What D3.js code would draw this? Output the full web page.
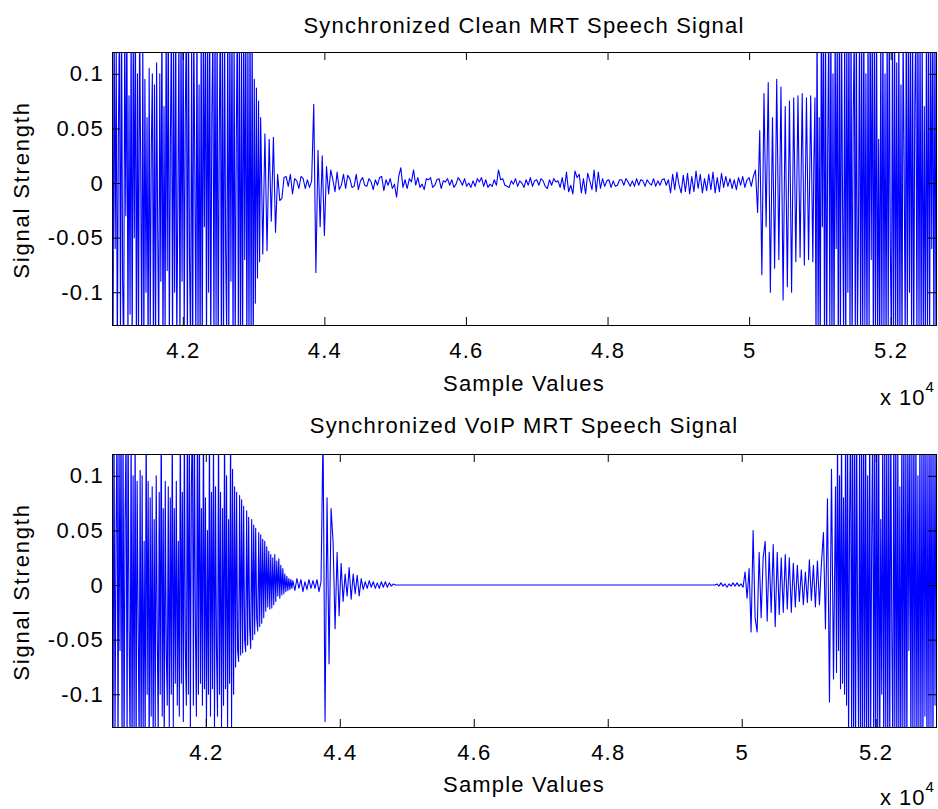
<!DOCTYPE html>
<html><head><meta charset="utf-8">
<script src="https://cdn.jsdelivr.net/npm/d3@7"></script>
<style>
body{margin:0;background:#fff;}
svg text{font-family:"Liberation Sans",Arial,sans-serif;fill:#000;}
</style></head><body>
<svg id="chart" width="938" height="809"></svg>
<script>
// ---- data ----
const xTicks=[42000,44000,46000,48000,50000,52000];
const xTickLabels=["4.2","4.4","4.6","4.8","5","5.2"];
const yTicks=[-0.1,-0.05,0,0.05,0.1];
const yTickLabels=["-0.1","-0.05","0","0.05","0.1"];
const titles=["Synchronized Clean MRT Speech Signal","Synchronized VoIP MRT Speech Signal"];
const xLabel="Sample Values";
const yLabel="Signal Strength";
const loudStep=15;   // samples between stored values in loud parts
const quietStep=30;  // samples between stored values elsewhere
// All signal values are in thousandths.
// Clean signal
const cleanOnsetStart=41000;
const cleanOnset=[
 70,-150,160,-60,120,-160,40,150,-140,160,
 -90,-160,150,-30,160,-150,80,-120,150,-160,
 140,-50,160,-160,100,-140,150,20,-160,130,
 -150,95,-100,60,-160,105,-140,30,100,-150,
 90,-160,110,-40,-150,100,-90,160,-160,70,
 -140,150,-80,160,-150,40,150,-160,120,-100,
 160,-150,-20,140,-160,150,-90,160,-140,60,
 150,-160,160,-70,-150,130,-160,150,10,-150,
 160,-140,90,-160,150,-160,140,-40,160,-150,
 150,-100,160,-160,60,140,-150,160,-130,150,
 -160,40,160,-150,140,-160,150,-60,-140,160,
 -150,150,-90,160,-160,140,-150,30,160,-140,
 150,-160,120,-150,160,-70,150,-160,140,-150,
 160,-150,150,-160,95,-110,87,-87,75,-72
];
const cleanMiddleStart=43100;
const cleanMiddle=[
 60,-65,45,-62,40,-35,42,-45,8,-16,
 -14,5,6,-3,8,-10,4,2,-5,6,
 4,-5,3,-4,2,72,-82,30,-40,25,
 -48,15,-10,12,3,-8,10,-6,-2,8,
 -5,7,4,-4,-3,8,-6,2,5,-2,
 -3,4,1,-6,3,-2,5,6,-7,3,
 -2,4,-5,-1,-13,6,14,-4,3,-5,
 4,1,12,-2,5,-4,-1,-6,4,3,
 5,-4,-2,3,4,-5,2,1,4,-2,
 3,-4,-1,5,2,-2,4,-3,0,-4,
 2,-3,4,1,5,-3,3,-4,-1,-3,
 3,-2,12,3,4,-2,-3,-4,2,-1,
 4,-3,2,0,-4,3,-2,5,-3,2,
 3,-2,4,2,-3,-5,3,-2,4,1,
 2,-4,5,-6,10,-8,-2,-10,11,5,
 8,-9,4,-10,9,2,-6,12,-8,10,
 -5,4,-3,2,3,-4,2,-3,-2,3,
 3,-2,4,1,-3,2,-3,4,-2,3,
 2,-3,3,0,-2,4,-3,2,-2,3,
 4,-2,3,-9,8,-6,10,-2,-9,7,
 -8,9,-10,6,-8,11,-5,8,-9,4,
 -7,8,-6,10,-9,5,-8,9,-4,6,
 -3,4,-5,3,-6,5,-2,6,-4,3,
 5,-3,6,12,-27,48,-84,82,-40,92,
 -100,60,-78,95,-70,88,-107,70,-95,75,
 -100,78,-72,80,-68,82,-75,78,-70,80
];
const cleanOffsetStart=50900;
const cleanOffset=[
 -72,20,78,-150,160,-140,60,-160,150,-40,
 160,-150,140,-160,30,150,-140,160,-150,100,
 -160,150,-60,140,-160,150,-150,160,-20,-140,
 150,-160,140,-100,160,-150,150,-160,60,140,
 -150,160,-140,-40,150,-160,140,-150,160,-130,
 100,-160,150,-140,160,-70,150,-160,140,-150,
 160,-150,40,-160,140,-150,160,-140,100,-160,
 150,-140,160,-60,-150,140,-160,150,-140,110,
 -160,150,-150,90,-160,140,20,-150,160,-140,
 150,-100,160,-150,140,-160,70,150,-150,160,
 -140,150,-160,140,-150,70,-160,150,-140,160,
 -150,140,-60,160,-160,150,-140
];
// VoIP signal
const voipOnsetStart=40600;
const voipOnset=[
 80,-150,160,-140,40,150,-160,140,-60,160,
 -150,150,-160,60,140,-150,160,-40,-150,150,
 -160,100,-140,150,-160,95,-30,-150,105,-160,
 100,-140,40,-150,160,-100,95,-160,80,-120,
 90,-150,60,-130,100,-40,-140,85,-100,160,
 -120,70,-150,95,-60,-110,90,-130,80,-100,
 150,-130,70,-90,95,-110,40,-120,160,-90,
 85,-125,150,-60,-110,160,-100,140,-130,90,
 160,-110,150,-40,-120,160,-100,150,-90,70,
 -110,160,-95,80,-130,50,-100,150,-120,85,
 -95,140,-130,90,-60,-120,150,-100,85,-130,
 70,-110,150,-95,100,-130,60,-90,150,-130,
 106,-100,90,-75,85,-60,-70,82,-64,78,
 -62,72,-50,-61,68,-55,62,-40,-58,60,
 -50,55,-45,52,-30,-42,48,-38,46,-35,
 42,-30,40,-24,35,-20,31,-22,28,-21,
 25,-18,28,-15,22,-10,24,-12,18,-9,
 15,-8,10,-6,8,-5,6,-4,5,-3
];
const voipMiddleStart=43300;
const voipMiddle=[
 4,-5,6,-3,5,-6,3,-4,5,-3,
 4,-3,5,-6,3,140,-125,80,-72,70,
 40,-40,30,-28,20,-15,10,-10,16,-13,
 10,-8,9,-10,6,-4,3,-3,4,-2,
 3,-3,2,-3,3,-2,3,-2,2,-1,
 1,0,0,0,0,0,0,0,0,0,
 0,0,0,0,0,0,0,0,0,0,
 0,0,0,0,0,0,0,0,0,0,
 0,0,0,0,0,0,0,0,0,0,
 0,0,0,0,0,0,0,0,0,0,
 0,0,0,0,0,0,0,0,0,0,
 0,0,0,0,0,0,0,0,0,0,
 0,0,0,0,0,0,0,0,0,0,
 0,0,0,0,0,0,0,0,0,0,
 0,0,0,0,0,0,0,0,0,0,
 0,0,0,0,0,0,0,0,0,0,
 0,0,0,0,0,0,0,0,0,0,
 0,0,0,0,0,0,0,0,0,0,
 0,0,0,0,0,0,0,0,0,0,
 0,0,0,0,0,0,0,0,0,0,
 0,0,0,0,0,0,0,0,0,0,
 0,1,-1,2,-1,1,-2,1,-1,2,
 -1,2,-1,1,-2,12,-12,15,-43,50,
 -30,-43,30,-30,25,40,-33,30,-25,37,
 -38,30,-27,25,-25,28,-22,25,-25,20,
 -20,18,-15,14,-18,12,-16,23,-14,18,
 -20,22,-18,20,48,-40,79,-107,106,-86
];
const voipOffsetStart=51400;
const voipOffset=[
 90,-80,140,-60,100,-95,150,-90,80,-100,
 140,-110,150,-150,60,160,-140,150,-160,140,
 -150,160,-40,-140,150,-160,140,-150,160,-140,
 150,-160,100,-150,160,-140,40,150,-160,140,
 -150,160,-140,150,-160,60,-100,150,-160,140,
 -140,150,-160,140,-150,160,-40,-150,160,-140,
 150,-160,140,-150,90,-160,150,-140,160,-150,
 140,-160,150,-60,150,-160,140,-150,160,-140,
 150,-160,100,-140,150,-160,140,-150,160,-120,
 150,-160,140,-150,160,-140,150,-160,140,-110,
 150
];
const yDomain=[-0.13,0.12];

// ---- layout ----
const L=112, R=936;
const panels=[
 {title:titles[0],xDomain:[41000,52640],top:52,bottom:325,titleY:33,xlabY:391,expY:405,
  segs:[[cleanOnsetStart,loudStep,cleanOnset],[cleanMiddleStart,quietStep,cleanMiddle],[cleanOffsetStart,loudStep,cleanOffset]]},
 {title:titles[1],xDomain:[40600,52900],top:454,bottom:727,titleY:433,xlabY:792,expY:805,
  segs:[[voipOnsetStart,loudStep,voipOnset],[voipMiddleStart,quietStep,voipMiddle],[voipOffsetStart,loudStep,voipOffset]]}
];
const svg=d3.select("#chart");
const FS=22, LS="1.2px";

panels.forEach((cfg,i)=>{
 const x=d3.scaleLinear().domain(cfg.xDomain).range([L,R]);
 const y=d3.scaleLinear().domain(yDomain).range([cfg.bottom,cfg.top]);
 const pts=cfg.segs.flatMap(([s0,st,vals])=>vals.map((v,k)=>[s0+k*st,v/1000]));
 const g=svg.append("g");
 g.append("clipPath").attr("id","clip"+i).append("rect")
  .attr("x",L).attr("y",cfg.top).attr("width",R-L).attr("height",cfg.bottom-cfg.top);
 g.append("path").datum(pts).attr("clip-path",`url(#clip${i})`)
  .attr("fill","none").attr("stroke","#0000ff").attr("stroke-width",1.1)
  .attr("stroke-linejoin","round")
  .attr("d",d3.line().x(d=>x(d[0])).y(d=>y(d[1])));

 const fx=d=>xTickLabels[xTicks.indexOf(d)];
 const fy=d=>yTickLabels[yTicks.indexOf(d)];
 const styleAxis=a=>{a.select(".domain").remove();
   a.selectAll("line").attr("stroke","#000");
   a.selectAll("text").attr("font-size",FS).attr("font-family",null).style("letter-spacing",LS);};
 g.append("g").attr("transform",`translate(0,${cfg.bottom})`)
  .call(d3.axisBottom(x).tickValues(xTicks).tickFormat(fx).tickSizeInner(-8).tickSizeOuter(0).tickPadding(17)).call(styleAxis);
 g.append("g").attr("transform",`translate(0,${cfg.top})`)
  .call(d3.axisTop(x).tickValues(xTicks).tickFormat("").tickSizeInner(-8).tickSizeOuter(0)).call(styleAxis);
 g.append("g").attr("transform",`translate(${L},0)`)
  .call(d3.axisLeft(y).tickValues(yTicks).tickFormat(fy).tickSizeInner(-8).tickSizeOuter(0).tickPadding(8)).call(styleAxis);
 g.append("g").attr("transform",`translate(${R},0)`)
  .call(d3.axisRight(y).tickValues(yTicks).tickFormat("").tickSizeInner(-8).tickSizeOuter(0)).call(styleAxis);
 g.append("rect").attr("x",L+0.5).attr("y",cfg.top+0.5).attr("width",R-L).attr("height",cfg.bottom-cfg.top)
  .attr("fill","none").attr("stroke","#000").attr("stroke-width",1);

 const cx=(L+R)/2;
 g.append("text").attr("x",cx).attr("y",cfg.titleY).attr("text-anchor","middle")
  .attr("font-size",FS).style("letter-spacing",LS).text(cfg.title);
 g.append("text").attr("x",cx).attr("y",cfg.xlabY).attr("text-anchor","middle")
  .attr("font-size",FS).style("letter-spacing",LS).text(xLabel);
 g.append("text").attr("transform",`translate(29,${(cfg.top+cfg.bottom)/2+1.5}) rotate(-90)`)
  .attr("text-anchor","middle").attr("font-size",FS).style("letter-spacing","1.8px").text(yLabel);
 const ex=g.append("text").attr("x",880).attr("y",cfg.expY).attr("font-size",FS).style("letter-spacing","1px");
 ex.append("tspan").text("x 10");
 ex.append("tspan").attr("dy",-13).attr("font-size",15).text("4");
});
</script>
</body></html>
